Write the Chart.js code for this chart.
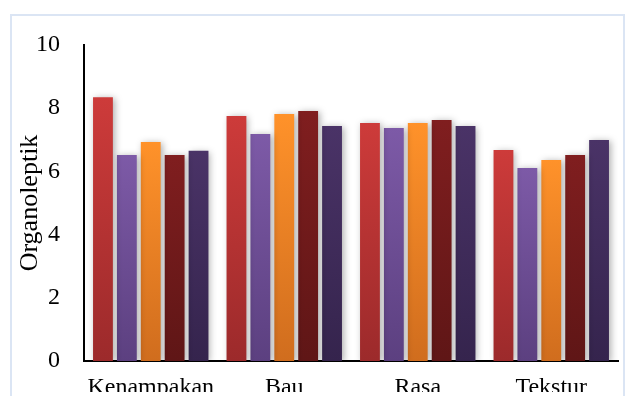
<!DOCTYPE html>
<html>
<head>
<meta charset="utf-8">
<script src="https://cdn.jsdelivr.net/npm/chart.js@4"></script>
<style>
  html, body { margin: 0; padding: 0; background: #fff; }
  #wrap { position: relative; width: 625px; height: 396px; overflow: hidden; }
  #frame {
    position: absolute; left: 10px; top: 14px; width: 615px; height: 420px;
    border: 2px solid #dbe5f4; box-sizing: border-box;
  }
  canvas { position: absolute; left: 0; top: 0; }
</style>
</head>
<body>
<div id="wrap">
  <div id="frame"></div>
  <canvas id="c" width="625" height="396"></canvas>
</div>
<script>
// Sensory attributes scored per treatment
const categories = ['Kenampakan', 'Bau', 'Rasa', 'Tekstur'];
const seriesNames = ['P1', 'P2', 'P3', 'P4', 'P5'];
const p1 = [8.35, 7.75, 7.53, 6.68];
const p2 = [6.52, 7.18, 7.37, 6.11];
const p3 = [6.93, 7.82, 7.53, 6.36];
const p4 = [6.52, 7.91, 7.63, 6.52];
const p5 = [6.65, 7.44, 7.44, 6.99];
const yTicks = [0, 2, 4, 6, 8, 10];

// top / bottom colour of each bar gradient
const shades = [
  ['#cd3b3a', '#9c2a2b'],
  ['#7d5aa7', '#5c4080'],
  ['#ff922a', '#d06d1e'],
  ['#801e1f', '#5f1616'],
  ['#4a3367', '#35244d']
];

const serif = '"Liberation Serif", "Times New Roman", serif';

function barFill(i) {
  return function (ctx) {
    const chart = ctx.chart;
    const area = chart.chartArea;
    if (!area || ctx.type !== 'data') return shades[i][0];
    const y = chart.scales.y;
    const top = y.getPixelForValue(ctx.raw);
    const bottom = y.getPixelForValue(0);
    const g = chart.ctx.createLinearGradient(0, top, 0, bottom);
    g.addColorStop(0, shades[i][0]);
    g.addColorStop(1, shades[i][1]);
    return g;
  };
}

const values = [p1, p2, p3, p4, p5];
const datasets = values.map((v, i) => ({
  label: seriesNames[i],
  data: v,
  backgroundColor: barFill(i),
  borderWidth: 0,
  categoryPercentage: 0.895,
  barPercentage: 0.83
}));

// soft drop shadow behind the bars
const barShadow = {
  id: 'barShadow',
  beforeDatasetsDraw(chart) {
    const c = chart.ctx;
    c.save();
    c.shadowColor = 'rgba(0,0,0,0.32)';
    c.shadowBlur = 7;
    c.shadowOffsetX = 2;
    c.shadowOffsetY = 1;
  },
  afterDatasetsDraw(chart) {
    chart.ctx.restore();
  }
};

new Chart(document.getElementById('c'), {
  type: 'bar',
  data: { labels: categories, datasets },
  plugins: [barShadow],
  options: {
    responsive: false,
    animation: false,
    layout: { padding: { top: 45, right: 7, left: 0, bottom: 0 } },
    plugins: { legend: { display: false }, tooltip: { enabled: false } },
    scales: {
      x: {
        grid: { display: false, drawTicks: false },
        border: { display: true, color: '#000', width: 2 },
        ticks: { color: '#000', font: { family: serif, size: 24 }, padding: 12, maxRotation: 0 },
        afterFit(s) { s.height = 31; }
      },
      y: {
        min: 0, max: 10,
        afterBuildTicks(s) { s.ticks = yTicks.map(v => ({ value: v })); },
        grid: { display: false, drawTicks: false },
        border: { display: true, color: '#000', width: 2 },
        ticks: { color: '#000', font: { family: serif, size: 24, lineHeight: 0.9167 }, padding: 24 },
        title: {
          display: true, text: 'Organoleptik', color: '#000',
          font: { family: serif, size: 26 }, padding: { top: 15, bottom: 0 }
        },
        afterFit(s) { s.width = 84; }
      }
    }
  }
});
</script>
</body>
</html>
